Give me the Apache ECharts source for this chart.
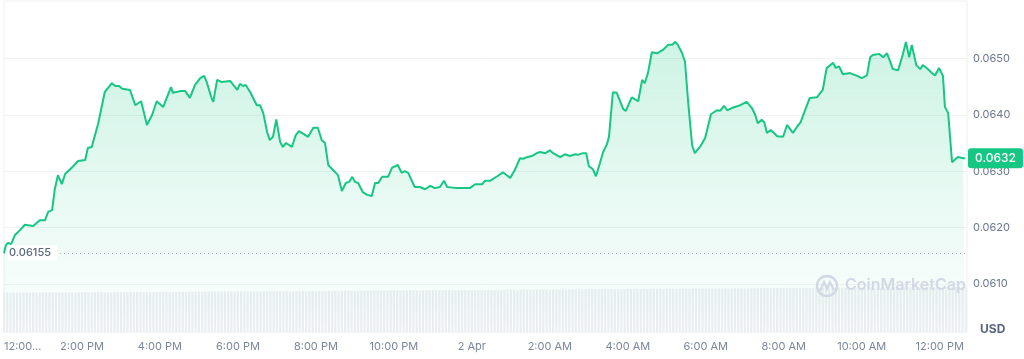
<!DOCTYPE html>
<html><head><meta charset="utf-8">
<script src="https://cdn.jsdelivr.net/npm/echarts@6/dist/echarts.min.js"></script>
<style>html,body{margin:0;padding:0;background:#fff}#c{width:1024px;height:359px}</style>
</head><body><div id="c"></div>
<script>
// minutes after 12:00 PM, 1 Apr
const minutes = [0,3,6,11,17,25,32,45,55,63,68,74,78,83,89,94,105,114,125,129,135,145,155,166,171,177,182,194,197,202,211,220,228,231,235,245,257,260,271,279,286,294,302,308,312,319,322,328,335,348,359,363,368,372,379,389,394,399,405,409,414,419,425,429,434,443,449,454,468,476,483,489,494,499,514,520,526,531,536,540,545,552,559,566,571,576,582,591,597,606,612,617,622,632,640,648,656,663,671,677,682,697,706,717,725,736,740,748,759,768,779,786,794,799,805,813,820,825,833,840,845,856,863,871,879,883,891,896,900,906,911,917,922,928,931,937,943,946,953,957,966,976,982,986,991,997,1005,1014,1022,1028,1033,1037,1043,1048,1053,1059,1063,1071,1079,1083,1088,1091,1097,1102,1108,1113,1120,1133,1143,1151,1156,1160,1166,1170,1174,1180,1190,1199,1205,1214,1220,1226,1234,1240,1251,1260,1266,1276,1280,1285,1291,1302,1313,1320,1328,1333,1337,1347,1353,1359,1368,1376,1383,1388,1393,1397,1404,1410,1414,1420,1428,1433,1439,1445,1448,1453,1459,1468,1476,1479];
const prices = [0.06155,0.06169,0.06173,0.06171,0.06187,0.06196,0.06205,0.06203,0.06213,0.06213,0.06228,0.06231,0.06267,0.06293,0.06277,0.06295,0.06307,0.06318,0.06320,0.06341,0.06343,0.06385,0.06440,0.06456,0.06451,0.06451,0.06446,0.06444,0.06444,0.06417,0.06424,0.06382,0.06400,0.06403,0.06424,0.06414,0.06449,0.06439,0.06442,0.06442,0.06430,0.06453,0.06465,0.06469,0.06458,0.06431,0.06423,0.06462,0.06458,0.06460,0.06444,0.06455,0.06451,0.06453,0.06440,0.06417,0.06417,0.06403,0.06369,0.06355,0.06361,0.06392,0.06352,0.06343,0.06350,0.06343,0.06364,0.06371,0.06361,0.06377,0.06377,0.06355,0.06350,0.06311,0.06293,0.06265,0.06279,0.06281,0.06290,0.06281,0.06279,0.06263,0.06258,0.06256,0.06279,0.06279,0.06290,0.06290,0.06306,0.06311,0.06297,0.06300,0.06297,0.06272,0.06272,0.06268,0.06274,0.06270,0.06272,0.06283,0.06272,0.06270,0.06270,0.06270,0.06277,0.06277,0.06283,0.06283,0.06291,0.06298,0.06288,0.06302,0.06323,0.06322,0.06325,0.06327,0.06332,0.06334,0.06332,0.06337,0.06332,0.06325,0.06330,0.06327,0.06330,0.06329,0.06332,0.06332,0.06309,0.06304,0.06291,0.06314,0.06334,0.06348,0.06361,0.06440,0.06439,0.06439,0.06410,0.06407,0.06431,0.06424,0.06462,0.06456,0.06474,0.06511,0.06509,0.06515,0.06524,0.06524,0.06529,0.06524,0.06511,0.06494,0.06421,0.06346,0.06332,0.06343,0.06359,0.06378,0.06401,0.06400,0.06408,0.06407,0.06416,0.06408,0.06412,0.06417,0.06423,0.06412,0.06400,0.06385,0.06391,0.06387,0.06368,0.06373,0.06362,0.06361,0.06382,0.06368,0.06378,0.06387,0.06412,0.06430,0.06431,0.06444,0.06483,0.06492,0.06483,0.06486,0.06472,0.06474,0.06469,0.06465,0.06470,0.06502,0.06506,0.06508,0.06502,0.06509,0.06481,0.06479,0.06506,0.06529,0.06502,0.06524,0.06488,0.06481,0.06488,0.06483,0.06474,0.06470,0.06483,0.06469,0.06414,0.06403,0.06316,0.06325,0.06323,0.06323];
const tickLabels = ['12:00...','2:00 PM','4:00 PM','6:00 PM','8:00 PM','10:00 PM','2 Apr','2:00 AM','4:00 AM','6:00 AM','8:00 AM','10:00 AM','12:00 PM'];
const priceTicks = [0.0600,0.0610,0.0620,0.0630,0.0640,0.0650,0.0660];
// 5-minute volume bars
const volumes = [
3.93,3.95,3.92,3.96,3.94,3.93,3.97,3.95,3.94,3.96,3.93,3.95,3.97,3.94,3.96,3.95,3.93,3.96,3.94,3.97,
3.95,3.96,3.94,3.97,3.95,3.98,3.96,3.95,3.97,3.96,3.98,3.95,3.97,3.96,3.99,3.97,3.96,3.98,3.97,3.99,
3.98,3.97,4.00,3.98,3.99,4.01,3.98,4.00,3.99,4.02,4.00,3.99,4.01,4.00,4.02,4.01,4.00,4.03,4.01,4.02,
4.03,4.01,4.04,4.02,4.03,4.05,4.03,4.04,4.02,4.05,4.04,4.03,4.06,4.04,4.05,4.06,4.04,4.07,4.05,4.06,
4.07,4.06,4.08,4.06,4.07,4.09,4.07,4.08,4.06,4.09,4.08,4.07,4.10,4.08,4.09,4.10,4.08,4.11,4.09,4.10,
4.11,4.10,4.12,4.10,4.11,4.13,4.11,4.12,4.10,4.13,4.12,4.11,4.14,4.12,4.13,4.14,4.12,4.15,4.13,4.14,
4.15,4.14,4.16,4.14,4.15,4.17,4.15,4.16,4.14,4.17,4.16,4.15,4.18,4.16,4.17,4.18,4.16,4.19,4.17,4.18,
4.19,4.18,4.20,4.18,4.19,4.21,4.19,4.20,4.18,4.21,4.20,4.19,4.22,4.20,4.21,4.22,4.20,4.23,4.21,4.22,
4.23,4.22,4.24,4.22,4.23,4.25,4.23,4.24,4.22,4.25,4.24,4.23,4.26,4.24,4.25,4.26,4.24,4.27,4.25,4.26,
4.27,4.26,4.28,4.26,4.27,4.29,4.27,4.28,4.26,4.29,4.28,4.27,4.30,4.28,4.29,4.30,4.28,4.31,4.29,4.30,
4.31,4.30,4.32,4.30,4.31,4.33,4.31,4.32,4.30,4.33,4.32,4.31,4.34,4.32,4.33,4.34,4.32,4.35,4.33,4.34,
4.35,4.34,4.36,4.34,4.35,4.37,4.35,4.36,4.34,4.37,4.36,4.35,4.38,4.36,4.37,4.38,4.36,4.39,4.37,4.38,
4.39,4.38,4.40,4.38,4.39,4.41,4.39,4.40,4.38,4.41,4.40,4.39,4.42,4.40,4.41,4.42,4.40,4.43,4.41,4.42,
4.43,4.42,4.44,4.42,4.43,4.45,4.43,4.44,4.42,4.45,4.44,4.43,4.46,4.44,4.45,4.46,4.44,4.47,4.45,4.46,
4.47,4.46,4.48,4.46,4.47,4.49,4.47,4.48,4.46,4.49,4.48,4.47,4.50,4.48,4.49,4.50,4.48];
const openPrice = 0.06155;
const axisMaxMinutes = 1482;
const green = '#16c784';
const FONT = 'Inter, "Noto Sans", sans-serif';

const priceData = minutes.map((m, i) => [m, prices[i]]);
const volData = volumes.map((v, i) => [i * 5, v]);
const lastPrice = prices[prices.length - 1];

const chart = echarts.init(document.getElementById('c'), null, {renderer: 'canvas'});
const splitColors = priceTicks.map((t, i) => (i === 0 || i === priceTicks.length - 1) ? 'rgba(0,0,0,0)' : '#eff2f5');

chart.setOption({
  animation: false,
  textStyle: {fontFamily: FONT},
  grid: [
    {left: 4, right: 57, top: 2, bottom: 18.6, show: false},
    {left: 4, right: 57, top: 1, bottom: 27, show: true, borderColor: '#eceff3', borderWidth: 1, backgroundColor: 'transparent'}
  ],
  xAxis: [
    {type: 'value', gridIndex: 0, min: 0, max: axisMaxMinutes, interval: 120, show: false},
    {type: 'value', gridIndex: 1, min: 0, max: axisMaxMinutes, interval: 120,
     axisLine: {show: false}, axisTick: {show: false}, splitLine: {show: false},
     axisLabel: {color: '#7b869b', fontSize: 11, margin: 9, alignMinLabel: 'left', showMaxLabel: true,
       formatter: v => (v % 120 === 0 && tickLabels[v / 120] !== undefined) ? tickLabels[v / 120] : ''}}
  ],
  yAxis: [
    {type: 'value', gridIndex: 0, position: 'right', min: priceTicks[0], max: priceTicks[priceTicks.length - 1], interval: 0.001,
     axisLine: {show: false}, axisTick: {show: false},
     splitLine: {show: true, lineStyle: {color: splitColors, width: 1}},
     axisLabel: {color: '#6b778c', fontSize: 11, margin: 6, showMinLabel: false, showMaxLabel: false,
       formatter: v => v.toFixed(4)}},
    {type: 'value', gridIndex: 1, min: 0, max: 33, show: false}
  ],
  series: [
    {type: 'bar', xAxisIndex: 1, yAxisIndex: 1, data: volData, barWidth: 2.2, z: 1,
     itemStyle: {color: '#eceef2'}, silent: true},
    {type: 'line', xAxisIndex: 0, yAxisIndex: 0, data: priceData, symbol: 'none', z: 3,
     lineStyle: {color: green, width: 2},
     areaStyle: {origin: 'start', color: new echarts.graphic.LinearGradient(0, 0, 0, 1, [
       {offset: 0, color: 'rgba(22,199,132,0.30)'},
       {offset: 1, color: 'rgba(22,199,132,0.0)'}
     ])},
     markLine: {
       silent: true, symbol: ['none', 'none'], animation: false, precision: 5,
       data: [
         [
           {coord: [0, openPrice],
            lineStyle: {color: '#a9b0bf', width: 1, type: [1, 3]},
            label: {show: true, position: 'insideStart', distance: 4, formatter: String(openPrice),
              color: '#58667e', fontSize: 11, fontWeight: 500, backgroundColor: '#fff', padding: [2, 6, 2, 1]}},
           {coord: [axisMaxMinutes, openPrice]}
         ],
         [
           {coord: [0, lastPrice],
            lineStyle: {color: 'rgba(255,255,255,0)', width: 1, type: 'solid'},
            label: {show: true, position: 'end', distance: 1, formatter: lastPrice.toFixed(4),
              color: '#fff', fontSize: 12, fontWeight: 500, backgroundColor: green,
              padding: [4, 7, 4, 7], borderRadius: 3}},
           {coord: [axisMaxMinutes, lastPrice]}
         ]
       ]
     }}
  ],
  graphic: [
    {type: 'text', left: 980, top: 323, style: {text: 'USD', fill: '#58667e', font: 'bold 12px ' + FONT}},
    {type: 'circle', shape: {cx: 827, cy: 286, r: 10}, style: {fill: 'none', stroke: '#d3d9e4', lineWidth: 2.5}, z: 5},
    {type: 'polyline', shape: {points: [[820, 291], [824, 282], [827, 289], [830, 282], [834, 290]]}, style: {fill: 'none', stroke: '#d3d9e4', lineWidth: 2.2}, z: 5},
    {type: 'text', left: 845, top: 277, style: {text: 'CoinMarketCap', fill: '#d3d9e4', font: '600 16px ' + FONT}, z: 5}
  ]
});
</script>
</body></html>
